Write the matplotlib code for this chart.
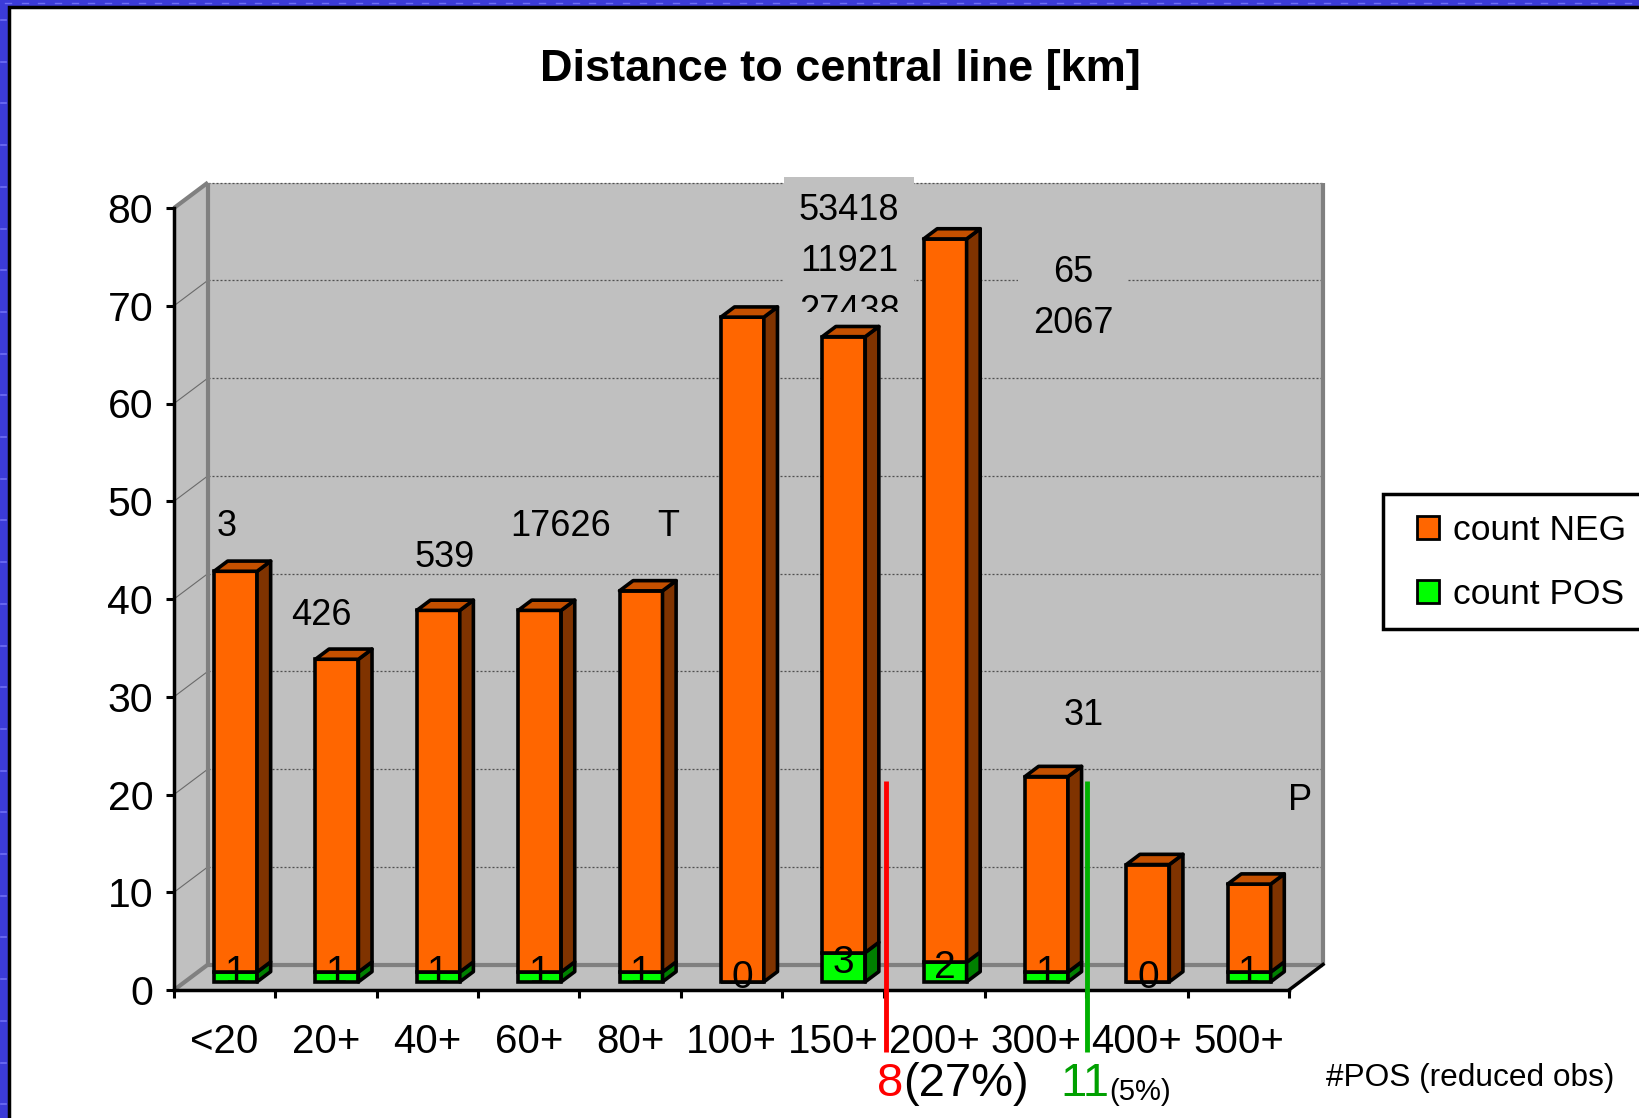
import matplotlib
matplotlib.use("Agg")
import matplotlib.pyplot as plt
from matplotlib.patches import Rectangle, Polygon, Patch
from matplotlib.lines import Line2D
import numpy as np

plt.rcParams['font.family'] = ['Liberation Sans', 'DejaVu Sans']

# ---- data -------------------------------------------------------------
categories = ["<20", "20+", "40+", "60+", "80+", "100+", "150+", "200+",
              "300+", "400+", "500+"]
count_pos = [1, 1, 1, 1, 1, 0, 3, 2, 1, 0, 1]
count_neg = [41, 32, 37, 37, 39, 68, 63, 74, 20, 12, 9]
y_ticks = [0, 10, 20, 30, 40, 50, 60, 70, 80]
series_names = ["count NEG", "count POS"]

# loose notes written on the chart wall
note_texts = ["3", "426", "539", "17626", "T", "65", "2067", "31", "P"]
note_xy = [(0.02, 47.4), (0.95, 38.3), (2.17, 44.2), (3.31, 47.4),
           (4.38, 47.4), (8.37, 73.4), (8.37, 68.2), (8.47, 28.1),
           (10.61, 19.4)]
stacked_notes = ["53418", "11921", "27438"]
stacked_y = [79.7, 74.55, 69.4]

# ---- figure / frame ---------------------------------------------------
W, H = 1640, 1118
fig = plt.figure(figsize=(W / 100, H / 100), dpi=100)
fig.patch.set_facecolor('#3b3bd8')


def fx(px):
    return px / W


def fy(py):
    return 1 - py / H


# light stipple on the blue border
for yy in np.arange(20, H, 41.7):
    fig.add_artist(Line2D([fx(1), fx(6)], [fy(yy)] * 2, color='#6e6ef4',
                          lw=1.2, transform=fig.transFigure, zorder=-6))
for xx in np.arange(5, W, 16.7):
    fig.add_artist(Line2D([fx(xx), fx(xx + 6)], [fy(2.5)] * 2,
                          color='#6e6ef4', lw=1.0, transform=fig.transFigure,
                          zorder=-6))

fig.add_artist(Rectangle((fx(9), -0.05), 1.1, (H - 6.5) / H + 0.05,
                         transform=fig.transFigure, facecolor='white',
                         edgecolor='black', lw=2.5, zorder=-5))

# ---- axes: front plane of the 3-D box --------------------------------
x0, x1, y0, y1 = 174, 1289, 990, 208
ax = fig.add_axes([fx(x0), fy(y0), (x1 - x0) / W, (y0 - y1) / H])
ax.set_xlim(-0.5, 10.5)
ax.set_ylim(0, 80)
ax.patch.set_visible(False)
for s in ('top', 'right'):
    ax.spines[s].set_visible(False)
for s in ('left', 'bottom'):
    ax.spines[s].set_linewidth(2.5)
    ax.spines[s].set_zorder(6)

n = len(categories)
DX = 34 / 101.36          # depth offset in category units
DY = 25.5 / 9.775         # depth offset in value units
wall = '#c0c0c0'
edge_grey = '#808080'

# side wall, back wall, floor
ax.add_patch(Polygon([(-0.5, 0), (-0.5 + DX, DY), (-0.5 + DX, 80 + DY),
                      (-0.5, 80)], closed=True, fc=wall, ec='none',
                     zorder=0, clip_on=False))
ax.add_patch(Rectangle((-0.5 + DX, DY), n, 80, fc=wall, ec='none',
                       zorder=0, clip_on=False))
ax.add_patch(Polygon([(-0.5, 0), (n - 0.5, 0), (n - 0.5 + DX, DY),
                      (-0.5 + DX, DY)], closed=True, fc=wall, ec='none',
                     zorder=0.5, clip_on=False))

# gridlines
for v in y_ticks[1:]:
    ax.plot([-0.5 + DX, n - 0.5 + DX], [v + DY, v + DY], color='#505050',
            lw=0.9, ls=(0, (1.6, 1.6)), zorder=1, clip_on=False)
    if v < 80:
        ax.plot([-0.5, -0.5 + DX], [v, v + DY], color='#6a6a6a', lw=0.8,
                zorder=1, clip_on=False)

# wall edges
kw = dict(color=edge_grey, lw=3, zorder=1.2, clip_on=False,
          solid_capstyle='butt')
ax.plot([-0.5 + DX, -0.5 + DX], [DY, 80 + DY], **kw)
ax.plot([n - 0.5 + DX, n - 0.5 + DX], [DY, 80 + DY], **kw)
ax.plot([-0.5 + DX, n - 0.5 + DX], [DY, DY], **kw)
ax.plot([-0.5, -0.5 + DX], [80, 80 + DY], **kw)
ax.plot([-0.5, -0.5 + DX], [0, DY], **kw)
ax.plot([n - 0.5, n - 0.5 + DX], [0, DY], color='black', lw=2.5,
        zorder=1.3, clip_on=False)

# text boxes that sit over the gridlines
box1 = Rectangle((5.518, 69.39), 1.282, 13.78, fc=wall, ec='none',
                 zorder=2, clip_on=False)
ax.add_patch(box1)
ax.add_patch(Rectangle((7.827, 66.0), 1.085, 10.7, fc=wall, ec='none',
                       zorder=2, clip_on=False))

# ---- stacked 3-D columns ---------------------------------------------
F0 = 0.32
BW = 0.424
BDX, BDY = 0.4 * DX, 0.4 * DY
xc = np.arange(n) + F0 * DX
base = F0 * DY
pos = np.array(count_pos, dtype=float)
neg = np.array(count_neg, dtype=float)
LW = 2.6

bar_kw = dict(edgecolor='black', linewidth=LW, zorder=3)
ax.bar(xc, pos, BW, bottom=base, color='#00ff00', **bar_kw)
ax.bar(xc, neg, BW, bottom=base + pos, color='#ff6600', **bar_kw)

for i in range(n):
    xr = xc[i] + BW / 2
    xl = xc[i] - BW / 2
    segs = [(base, base + pos[i], '#008000'),
            (base + pos[i], base + pos[i] + neg[i], '#7f3300')]
    for lo, hi, col in segs:
        if hi - lo <= 0:
            continue
        ax.add_patch(Polygon([(xr, lo), (xr + BDX, lo + BDY),
                              (xr + BDX, hi + BDY), (xr, hi)], closed=True,
                             fc=col, ec='black', lw=LW, zorder=3,
                             joinstyle='round', clip_on=False))
    top = base + pos[i] + neg[i]
    ax.add_patch(Polygon([(xl, top), (xr, top), (xr + BDX, top + BDY),
                          (xl + BDX, top + BDY)], closed=True, fc='#c45000',
                         ec='black', lw=LW, zorder=3, joinstyle='round',
                         clip_on=False))
    ax.text(xc[i], base + pos[i] / 2 + 0.4, str(count_pos[i]), ha='center',
            va='center', fontsize=28, zorder=5)

# ---- ticks -----------------------------------------------------------
ax.set_yticks(y_ticks)
ax.set_yticklabels([str(v) for v in y_ticks])
ax.tick_params(axis='y', direction='out', length=6, width=2.2,
               labelsize=29.5, pad=9)
ax.set_xticks(np.arange(-0.5, n, 1.0))
ax.set_xticklabels([])
ax.tick_params(axis='x', which='major', direction='out', length=6, width=2.2)
ax.set_xticks(np.arange(n), minor=True)
ax.set_xticklabels(categories, minor=True)
ax.tick_params(axis='x', which='minor', length=0, labelsize=29, pad=24)

# ---- notes -----------------------------------------------------------
for t, (xx, yy) in zip(note_texts, note_xy):
    ax.text(xx, yy, t, ha='center', va='center', fontsize=26, zorder=4,
            clip_on=False)
for t, yy in zip(stacked_notes, stacked_y):
    tx = ax.text(6.16, yy, t, ha='center', va='center', fontsize=26,
                 zorder=4, clip_on=True)
    tx.set_clip_path(box1)

# marker lines below the axis
ax.plot([6.525, 6.525], [21.4, -6.3], color='#ff0000', lw=3.5, zorder=7,
        clip_on=False, solid_capstyle='butt')
ax.plot([8.508, 8.508], [21.4, -6.3], color='#00b000', lw=3.5, zorder=7,
        clip_on=False, solid_capstyle='butt')

t1 = ax.text(6.436, -9.6, "8", color='#ff0000', fontsize=34, ha='left',
             va='center', clip_on=False)
ax.annotate("(27%)", xy=(1, 0), xycoords=t1, ha='left', va='bottom',
            fontsize=34, color='black')
t2 = ax.text(8.24, -9.6, "11", color='#00a000', fontsize=34, ha='left',
             va='center', clip_on=False)
ax.annotate("(5%)", xy=(1, 0), xycoords=t2, ha='left', va='bottom',
            fontsize=21, color='black')
ax.text(10.865, -9.0, "#POS (reduced obs)", fontsize=22.8, ha='left',
        va='center', clip_on=False)

# ---- title & legend --------------------------------------------------
fig.text(fx(840), fy(70), "Distance to central line [km]", ha='center',
         va='center', fontsize=32.5, fontweight='bold')

fig.add_artist(Rectangle((fx(1383), fy(629)), 0.3, (629 - 494) / H,
                         transform=fig.transFigure, facecolor='white',
                         edgecolor='black', lw=2.5, zorder=4))
handles = [Patch(facecolor='#ff6600', edgecolor='black', lw=2),
           Patch(facecolor='#00ff00', edgecolor='black', lw=2)]
leg = fig.legend(handles, series_names, loc='upper left',
                 bbox_to_anchor=(fx(1417), fy(514)), frameon=False,
                 fontsize=25.5, handlelength=0.62, handleheight=0.62,
                 handletextpad=0.4, borderpad=0, labelspacing=0.87,
                 borderaxespad=0)
leg.set_zorder(5)

fig.savefig("out.png", dpi=100)
